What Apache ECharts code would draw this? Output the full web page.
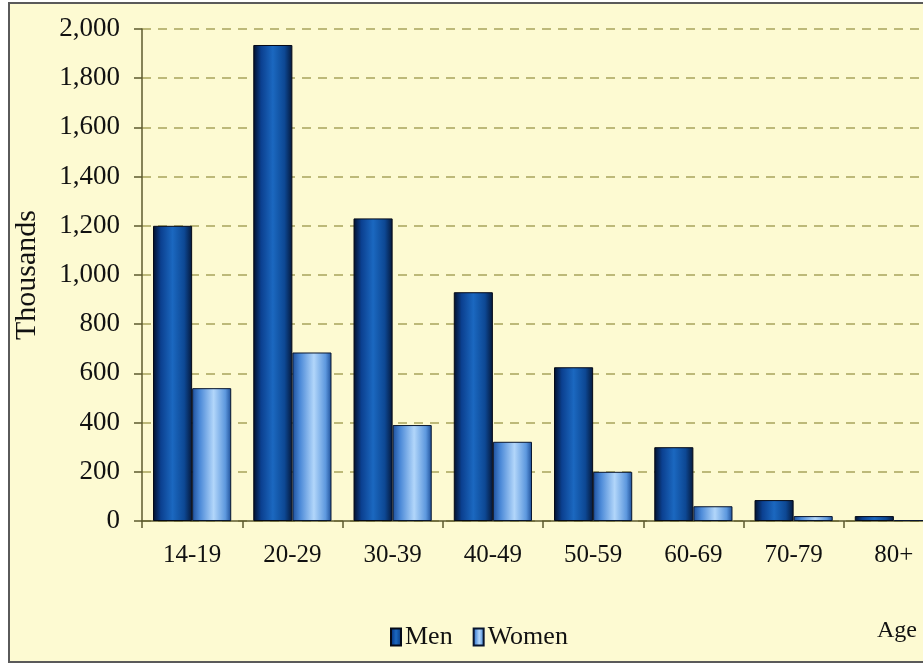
<!DOCTYPE html>
<html>
<head>
<meta charset="utf-8">
<script src="https://cdn.jsdelivr.net/npm/echarts@6/dist/echarts.min.js"></script>
<style>
html,body{margin:0;padding:0;background:#ffffff;overflow:hidden;width:923px;height:664px;}
#frame{position:absolute;left:8px;top:2px;width:930px;height:657px;border:2px solid #5a5a5a;background:#fdfad2;}
#chart{position:absolute;left:0;top:0;width:944px;height:664px;}
</style>
</head>
<body>
<div id="frame"></div>
<div id="chart"></div>
<script>
const categories = ['14-19','20-29','30-39','40-49','50-59','60-69','70-79','80+'];
const men = [1200, 1935, 1230, 930, 625, 300, 85, 20];
const women = [540, 685, 390, 322, 200, 60, 20, 4];
const yTicks = {min: 0, max: 2000, interval: 200};

const menGrad = {type:'linear', x:0, y:0, x2:1, y2:0, colorStops:[
  {offset:0, color:'#03102a'},{offset:0.2, color:'#0b4090'},{offset:0.5, color:'#1b68c0'},
  {offset:0.8, color:'#0d4894'},{offset:1, color:'#05183a'}]};
const womenGrad = {type:'linear', x:0, y:0, x2:1, y2:0, colorStops:[
  {offset:0, color:'#1c4f9c'},{offset:0.2, color:'#4c8ad8'},{offset:0.55, color:'#b2d6fa'},
  {offset:0.85, color:'#5d98de'},{offset:1, color:'#1d4e98'}]};

const font = 'Liberation Serif';
const txt = '#111111';
const chart = echarts.init(document.getElementById('chart'), null, {renderer:'canvas'});
chart.setOption({
  backgroundColor: 'transparent',
  animation: false,
  textStyle: {fontFamily: font, color: txt},
  grid: {left: 142, right: 0, top: 29, bottom: 143, containLabel: false},
  legend: {
    data: ['Men','Women'], left: 385, top: 619, itemWidth: 10, itemHeight: 17, itemGap: 20,
    icon: 'rect',
    textStyle: {fontFamily: font, fontSize: 26, color: txt, padding:[0,0,0,-1]}
  },
  xAxis: {
    type: 'category', data: categories,
    axisLine: {lineStyle: {color: '#5c5a2e', width: 1.5}},
    axisTick: {show: true, length: 7, alignWithLabel: false, lineStyle: {color: '#5c5a2e', width: 1.5}},
    axisLabel: {fontFamily: font, fontSize: 25, color: txt, margin: 22}
  },
  yAxis: {
    type: 'value', min: yTicks.min, max: yTicks.max, interval: yTicks.interval,
    name: 'Thousands', nameLocation: 'middle', nameRotate: 90, nameGap: 100,
    nameTextStyle: {fontFamily: font, fontSize: 30, color: txt},
    axisLine: {show: true, lineStyle: {color: '#5c5a2e', width: 1.5}},
    axisTick: {show: true, length: 8, lineStyle: {color: '#5c5a2e', width: 1.5}},
    axisLabel: {fontFamily: font, fontSize: 27, color: txt, margin: 22,
      formatter: v => v.toLocaleString('en-US')},
    splitLine: {show: true, lineStyle: {color: '#a8a45c', type: [9, 7], width: 1.5}}
  },
  graphic: [{
    type: 'text', left: 877, top: 619,
    style: {text: 'Age', fontFamily: font, fontSize: 24, fill: txt}
  }],
  series: [
    {name: 'Men', type: 'bar', data: men, barGap: '0%', barCategoryGap: '22%',
     itemStyle: {color: menGrad, borderColor: '#050a18', borderWidth: 1}},
    {name: 'Women', type: 'bar', data: women, barGap: '0%', barCategoryGap: '22%',
     itemStyle: {color: womenGrad, borderColor: '#08152e', borderWidth: 1}}
  ]
});
</script>
</body>
</html>
